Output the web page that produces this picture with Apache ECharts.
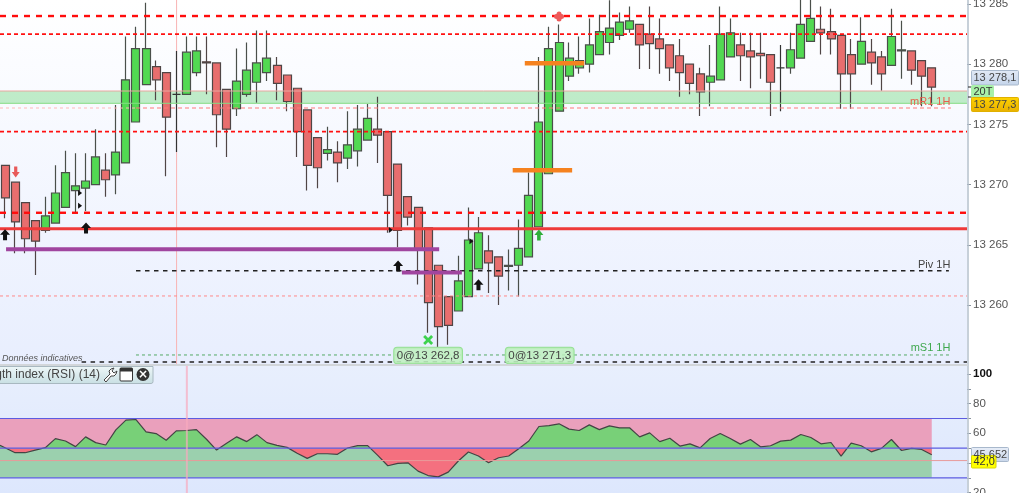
<!DOCTYPE html>
<html><head><meta charset="utf-8">
<style>html,body{margin:0;padding:0;background:#fff}#c{width:1022px;height:493px}</style>
<script src="https://cdn.jsdelivr.net/npm/echarts@6/dist/echarts.min.js"></script>
</head><body><div id="c"></div>
<script>
const opens=[13271.6,13270.2,13268.5,13267.0,13266.2,13266.8,13268.1,13269.5,13269.7,13270.0,13271.2,13270.8,13271.8,13275.2,13278.3,13279.8,13279.3,13277.5,13277.5,13279.3,13280.2,13280.1,13277.9,13276.3,13277.5,13278.5,13279.3,13279.9,13279.1,13278.0,13276.2,13273.9,13272.6,13272.7,13272.2,13272.8,13273.7,13274.6,13274.4,13271.7,13269.0,13268.1,13266.4,13263.3,13260.7,13259.5,13260.7,13263.0,13264.5,13264.0,13263.2,13263.3,13264.0,13266.5,13270.9,13276.1,13279.0,13279.7,13280.0,13280.8,13281.8,13282.4,13282.9,13283.3,13282.5,13282.1,13281.6,13280.7,13280.0,13279.2,13278.5,13278.7,13280.6,13281.6,13281.1,13280.9,13280.8,13279.7,13279.7,13280.5,13281.9,13282.9,13282.7,13282.4,13280.8,13280.0,13281.0,13280.6,13279.9,13281.1,13281.1,13280.3,13279.7];
const closes=[13268.9,13266.9,13265.5,13265.3,13267.4,13269.3,13271.0,13269.9,13270.3,13272.3,13270.4,13272.7,13278.7,13281.3,13281.3,13278.7,13275.6,13277.5,13281.0,13281.1,13280.1,13275.8,13274.6,13278.6,13279.5,13280.1,13280.5,13278.4,13276.9,13274.4,13271.6,13271.4,13272.9,13271.8,13273.3,13274.6,13275.5,13274.1,13269.1,13266.2,13267.3,13264.6,13260.2,13258.2,13258.3,13262.0,13265.4,13266.0,13263.5,13262.4,13263.3,13264.7,13269.1,13275.2,13281.3,13281.8,13280.5,13280.3,13281.6,13282.7,13283.0,13283.5,13283.6,13281.6,13281.7,13281.3,13279.7,13279.3,13278.4,13277.7,13279.0,13282.5,13282.6,13280.7,13280.6,13280.7,13278.5,13279.7,13281.2,13283.3,13283.8,13282.6,13282.1,13279.2,13279.2,13281.9,13280.1,13279.2,13282.3,13281.2,13279.5,13279.0,13278.1];
const highs=[13271.6,13270.2,13268.5,13267.0,13269.0,13271.6,13272.8,13272.6,13272.6,13274.6,13272.6,13276.6,13282.3,13283.1,13285.1,13280.3,13279.3,13281.1,13282.3,13282.3,13282.3,13280.1,13277.9,13281.3,13281.8,13282.8,13282.8,13280.6,13279.1,13278.0,13276.2,13273.9,13274.8,13273.6,13276.1,13276.6,13276.7,13277.3,13274.4,13271.7,13269.0,13268.1,13266.4,13263.3,13260.7,13264.1,13268.1,13267.3,13265.8,13264.0,13264.6,13267.1,13271.0,13280.6,13283.1,13283.3,13281.8,13282.3,13283.8,13284.1,13285.3,13284.3,13284.8,13283.3,13284.8,13283.8,13281.6,13282.1,13280.0,13279.7,13281.6,13284.8,13283.8,13282.6,13282.6,13282.6,13280.8,13281.6,13282.6,13285.6,13285.6,13284.8,13284.6,13282.4,13282.1,13283.9,13282.1,13281.1,13284.6,13283.6,13281.1,13280.3,13279.7];
const lows=[13267.2,13264.3,13264.3,13262.5,13266.0,13266.8,13268.1,13267.6,13267.8,13270.0,13269.0,13269.2,13271.8,13275.2,13278.3,13277.0,13270.7,13272.7,13277.5,13279.0,13277.5,13273.1,13272.3,13275.7,13277.3,13276.8,13278.6,13277.0,13276.1,13272.3,13269.5,13269.7,13272.0,13270.2,13271.3,13271.5,13273.7,13271.8,13266.0,13264.8,13266.6,13261.7,13257.7,13256.5,13256.7,13259.5,13260.7,13263.0,13261.0,13260.0,13261.2,13260.7,13264.0,13266.5,13270.9,13276.1,13278.6,13279.2,13279.3,13280.8,13280.8,13282.0,13282.6,13279.6,13279.6,13279.2,13278.6,13277.3,13277.5,13275.7,13276.5,13278.7,13280.6,13278.6,13278.0,13278.8,13275.7,13276.1,13279.2,13280.5,13281.9,13280.8,13280.8,13276.3,13276.3,13280.0,13278.3,13277.8,13279.9,13278.8,13278.3,13276.5,13276.5];
const rsiValues=[50.3,46.9,46.9,48.7,50.3,56.4,54.8,51.0,57.6,53.7,52.1,62.3,68.9,69.3,61.0,59.8,55.3,61.6,61.9,62.5,56.0,48.7,53.3,57.6,54.4,59.1,53.7,51.9,50.5,46.5,43.1,46.2,46.2,45.8,50.1,51.7,51.7,45.1,38.1,39.7,40.1,34.5,31.5,30.6,33.8,41.3,47.4,44.7,40.1,43.5,44.7,49.6,54.8,64.6,65.2,66.4,62.8,61.9,65.7,62.5,65.0,63.7,63.7,57.6,60.3,54.4,56.7,51.4,52.9,50.2,56.5,59.9,56.5,52.7,55.8,50.9,51.6,54.7,55.4,59.2,57.2,52.9,53.8,44.6,53.4,51.6,47.5,49.8,55.8,48.4,49.8,49.1,45.5];
const rsiBefore=51.9;
const priceTicks=[13260,13265,13270,13275,13280,13285];
const rsiTicks=[100,80,60,40,20];
const rsiMinorTicks=[100,90,80,70,60,50,40,30,20];
const slotCount=96;
const categories=Array.from({length:slotCount},(_,i)=>String(i));

// level lines: [price, from slot, to slot, colour, width, dash]
const levels=[
 [13284.0,-0.5,95.5,'#ff0c0c',2.4,[6,6]],
 [13282.5,-0.5,95.5,'#ff1010',1.8,[4,3]],
 [13277.77,-0.5,95.5,'#e8a8a0',1,null],
 [13276.75,-0.5,95.5,'#84dc84',1,null],
 [13276.36,-0.5,13,'#ffb8b8',1,[3,3]],
 [13276.36,13,93.9,'#ff7878',1.2,[4,3]],
 [13274.4,-0.5,95.5,'#ff1010',1.8,[4,3]],
 [13267.66,-0.5,95.5,'#ff0c0c',2.4,[6,6]],
 [13266.33,-0.5,95.5,'#ee3a3a',3,null],
 [13262.85,13,93.7,'#222222',1.5,[4.5,4.5]],
 [13260.75,-0.5,95.5,'#ff8a8a',1,[3,3]],
 [13255.85,13,93.9,'#55aa66',1,[3,3]],
 [13255.27,7.6,95.5,'#222222',1.5,[4.5,4.5]],
 [13264.63,0.1,43.1,'#a0459f',4,null],
 [13262.7,39.4,45.35,'#a0459f',4,null],
 [13280.07,51.6,57.5,'#f5821f',4.5,null],
 [13271.19,50.4,56.3,'#f5821f',4.5,null]
];
const bandLow=13276.75, bandHigh=13277.77;
const crossSlot=17.03, crossSlotRsi=18.05;

const arrowUp='path://M5,0 L10,5.5 L7,5.5 L7,11 L3,11 L3,5.5 L0,5.5 Z';
const clover='path://M5,0 A2.5,2.5 0 0 1 7.5,2.5 A2.5,2.5 0 1 1 7.5,7.5 A2.5,2.5 0 1 1 2.5,7.5 A2.5,2.5 0 1 1 2.5,2.5 A2.5,2.5 0 0 1 5,0 Z';
const cross='path://M2,0 L5,3 L8,0 L10,2 L7,5 L10,8 L8,10 L5,7 L2,10 L0,8 L3,5 L0,2 Z';
const tri='path://M0,0 L6,4 L0,8 Z';
const blackUps=[[0,13265.84],[8.04,13266.4],[39.02,13263.24],[47,13261.69]];
const greenUps=[[53,13265.81]];
const redDowns=[[1.06,13271.05]];
const greenCross=[[42,13257.09]];
const redClover=[[55,13283.95]];
const triangles=[[7.45,13269.3],[7.45,13268.25],[38.3,13266.23],[46.3,13265.3]];
const orderTags=[[42,13255.8,'0@13 262,8'],[53.08,13255.8,'0@13 271,3']];
const levelTags=[[93.9,13276.86,'mR1 1H','#e8604e'],[93.9,13263.36,'Piv 1H','#444444'],[93.9,13256.4,'mS1 1H','#3fa84f']];
const rsiLevels=[[70,'#5c5ce0',1.2],[50,'#5c5ce0',1.2],[30,'#5c5ce0',1.2],[41.6,'#e89a9a',1]];

const rsiMin=19.73, rsiMax=105.4, rsiTop=366, rsiHeight=127, rsiMid=50;
const priceFmt=v=>{const s=String(Math.round(v));return s.slice(0,2)+' '+s.slice(2);};
const series=[];
series.push({type:'candlestick',xAxisIndex:0,yAxisIndex:0,z:3,barWidth:8.5,
  data:opens.map((o,i)=>[o,closes[i],lows[i],highs[i]]),
  itemStyle:{color:'#52d952',color0:'#e86e6e',borderColor:'#4a4f4a',borderColor0:'#4f4545',borderColorDoji:'#333333',borderWidth:1.2}});
series.push({type:'line',xAxisIndex:1,yAxisIndex:0,z:4,silent:true,symbol:'none',data:[],
  markArea:{silent:true,itemStyle:{color:'rgba(72,205,92,0.33)'},data:[[{xAxis:-0.5,yAxis:bandHigh},{xAxis:95.5,yAxis:bandLow}]]}});
levels.forEach(l=>series.push({type:'line',xAxisIndex:1,yAxisIndex:0,z:5,silent:true,symbol:'none',
  data:[[l[1],l[0]],[l[2],l[0]]],lineStyle:{color:l[3],width:l[4],type:l[5]||'solid',cap:'butt'}}));
series.push({type:'line',xAxisIndex:1,yAxisIndex:0,z:2,silent:true,symbol:'none',
  data:[[crossSlot,13255.1],[crossSlot,13285.33]],lineStyle:{color:'#f8b4b4',width:1}});
function marks(data,symbol,size,color,rotate){
  series.push({type:'scatter',xAxisIndex:1,yAxisIndex:0,z:6,silent:true,data,symbol,symbolSize:size,symbolRotate:rotate||0,itemStyle:{color,opacity:1}});
}
marks(blackUps,arrowUp,[10,11],'#111111');
marks(greenUps,arrowUp,[9,11],'#2fae3a');
marks(redDowns,arrowUp,[8,11],'#e85a5a',180);
marks(greenCross,cross,[10,10],'#3ed24e');
marks(redClover,clover,[10,10],'#ee5a5a');
marks(triangles,tri,[4,6],'#111111');
series.push({type:'scatter',xAxisIndex:1,yAxisIndex:0,z:7,silent:true,symbolSize:1,itemStyle:{color:'rgba(0,0,0,0)',opacity:1},
  data:orderTags.map(t=>({value:[t[0],t[1]],label:{formatter:t[2]}})),
  label:{show:true,position:'inside',fontFamily:'Liberation Sans',fontSize:11.5,color:'#444',backgroundColor:'rgba(190,240,190,0.85)',borderColor:'#96e096',borderWidth:1,borderRadius:3,padding:[2,2.5,1.5,2.5]}});
series.push({type:'scatter',xAxisIndex:1,yAxisIndex:0,z:7,silent:true,symbolSize:1,itemStyle:{color:'rgba(0,0,0,0)',opacity:1},
  data:levelTags.map(t=>({value:[t[0],t[1]],label:{formatter:t[2],color:t[3]}})),
  label:{show:true,position:'left',distance:0,fontFamily:'Liberation Sans',fontSize:11}});
// RSI pane
const rsiXY=[[-0.5,rsiBefore]].concat(rsiValues.map((v,i)=>[i,v]));
const midStop=(rsiTop+rsiHeight*(rsiMax-rsiMid)/(rsiMax-rsiMin))/493;
series.push({type:'line',xAxisIndex:2,yAxisIndex:1,z:1,silent:true,symbol:'none',data:[],
  markArea:{silent:true,data:[
    [{xAxis:-0.5,yAxis:70,itemStyle:{color:'#eaa0bc'}},{xAxis:92,yAxis:50}],
    [{xAxis:-0.5,yAxis:50,itemStyle:{color:'#9bd0ae'}},{xAxis:92,yAxis:30}]]}});
series.push({type:'line',xAxisIndex:2,yAxisIndex:1,z:2,silent:true,symbol:'none',data:rsiXY,
  lineStyle:{width:0},areaStyle:{origin:50,opacity:1,color:{type:'linear',x:0,y:0,x2:0,y2:493,global:true,colorStops:[
    {offset:0,color:'#78d078'},{offset:midStop,color:'#78d078'},{offset:midStop,color:'#f4707f'},{offset:1,color:'#f4707f'}]}}});
series.push({type:'line',xAxisIndex:2,yAxisIndex:1,z:3,silent:true,symbol:'none',data:rsiXY,lineStyle:{color:'#444444',width:1.2}});
rsiLevels.forEach(l=>series.push({type:'line',xAxisIndex:2,yAxisIndex:1,z:4,silent:true,symbol:'none',
  data:[[-0.5,l[0]],[95.5,l[0]]],lineStyle:{color:l[1],width:l[2]}}));
series.push({type:'line',xAxisIndex:2,yAxisIndex:1,z:5,silent:true,symbol:'none',
  data:[[crossSlotRsi,rsiMin],[crossSlotRsi,rsiMax]],lineStyle:{color:'rgba(248,170,190,0.7)',width:2}});

const vGrad=(a,b)=>({type:'linear',x:0,y:0,x2:0,y2:1,colorStops:[{offset:0,color:a},{offset:1,color:b}]});
const F='Liberation Sans';
const box=(x,y,w,h,fill,stroke,text,tx,color,size)=>[
  {type:'rect',z:20,shape:{x,y,width:w,height:h,r:1},style:{fill,stroke,lineWidth:1}},
  {type:'text',z:21,style:{x:tx,y:y+h/2,text,fill:color||'#444',font:(size||11)+'px "'+F+'"',textVerticalAlign:'middle'}}];
const wrench=[[104,380],[110,374],[109,371],[111,369],[114,368],[112,371],[114,373],[117,371],[116,374],[114,376],[111,376],[106,382]];
const graphics=[
  {type:'line',z:10,shape:{x1:968,y1:0,x2:968,y2:493},style:{stroke:'#b4c0cc',lineWidth:1.5}},
  {type:'rect',z:10,shape:{x:0,y:364,width:968,height:2},style:{fill:'#d2d6da'}},
  {type:'text',z:12,style:{x:2,y:358,text:'Données indicatives',fill:'#555',font:'italic 9px "'+F+'"',textVerticalAlign:'middle'}},
  {type:'rect',z:12,shape:{x:-2,y:366.5,width:155,height:17,r:[0,0,2,0]},style:{fill:vGrad('#eef7f8','#c8dfe3'),stroke:'#a8b8c0',lineWidth:1}},
  {type:'text',z:13,style:{x:100,y:375,text:'ngth index (RSI) (14)',align:'right',textAlign:'right',fill:'#444',font:'12px "'+F+'"',textVerticalAlign:'middle'}},
  {type:'polygon',z:13,shape:{points:wrench},style:{fill:'#fff',stroke:'#444',lineWidth:1}},
  {type:'rect',z:13,shape:{x:120,y:368,width:12.5,height:13,r:1},style:{fill:'#fff',stroke:'#333',lineWidth:1}},
  {type:'rect',z:13,shape:{x:120,y:368,width:12.5,height:3.5},style:{fill:'#333'}},
  {type:'circle',z:13,shape:{cx:143,cy:374.5,r:6.5},style:{fill:'#333'}},
  {type:'text',z:14,style:{x:143,y:374.5,text:'×',align:'center',textAlign:'center',fill:'#fff',font:'bold 12px "DejaVu Sans"',textVerticalAlign:'middle'}},
  {type:'line',z:15,shape:{x1:968,y1:87,x2:972,y2:87},style:{stroke:'#222',lineWidth:1}},
  {type:'line',z:15,shape:{x1:968,y1:97,x2:972,y2:97},style:{stroke:'#222',lineWidth:1}},
  ...box(971.5,70.5,47,14.5,vGrad('#e2eaf6','#c4d4ea'),'#a8b8cc','13 278,1',973.5),
  ...box(971.5,85.5,22,12,'#a8f0a8','#a8f0a8','20T',973.5,'#333'),
  ...box(971.5,97.5,47,14,vGrad('#ffd400','#e8b000'),'#e0b000','13 277,3',973.5),
  ...box(971.5,447.5,37,14,vGrad('#e8eef8','#c8d6ea'),'#a8b8cc','45,652',973.5),
  ...box(971.5,455.5,24.5,12.5,'#ffff00','#d8d800','42,0',973.5,'#333')
];

const option={
  animation:false,
  backgroundColor:'#ffffff',
  grid:[
    {left:0,top:0,width:967,height:364,show:true,borderWidth:0,outerBoundsMode:'none',backgroundColor:vGrad('#ffffff','#e8eefe')},
    {left:0,top:rsiTop,width:967,height:rsiHeight,show:true,borderWidth:0,outerBoundsMode:'none',backgroundColor:vGrad('#e8effd','#dde7fd')}
  ],
  xAxis:[
    {type:'category',gridIndex:0,data:categories,show:false,boundaryGap:true},
    {type:'value',gridIndex:0,min:-0.5,max:95.5,show:false},
    {type:'value',gridIndex:1,min:-0.5,max:95.5,show:false}
  ],
  yAxis:[
    {type:'value',gridIndex:0,position:'right',min:13255.1,max:13285.33,scale:true,splitLine:{show:false},
     axisLine:{show:false,onZero:false},
     axisTick:{show:true,length:4,customValues:priceTicks,lineStyle:{color:'#8a949e'}},
     axisLabel:{show:true,customValues:priceTicks,formatter:priceFmt,fontFamily:F,fontSize:11.5,color:'#555',margin:6}},
    {type:'value',gridIndex:1,position:'right',min:rsiMin,max:rsiMax,scale:true,splitLine:{show:false},
     axisLine:{show:false,onZero:false},
     axisTick:{show:true,length:4,customValues:rsiMinorTicks,lineStyle:{color:'#8a949e'}},
     axisLabel:{show:true,customValues:rsiTicks,fontFamily:F,fontSize:11.5,color:'#555',margin:6,
       formatter:v=>v===100?'{b|100}':String(v),rich:{b:{fontWeight:'bold',color:'#111',fontFamily:F,fontSize:11.5}}}}
  ],
  series,
  graphic:{elements:graphics}
};
const chart=echarts.init(document.getElementById('c'),null,{renderer:'canvas'});
chart.setOption(option);
</script></body></html>
